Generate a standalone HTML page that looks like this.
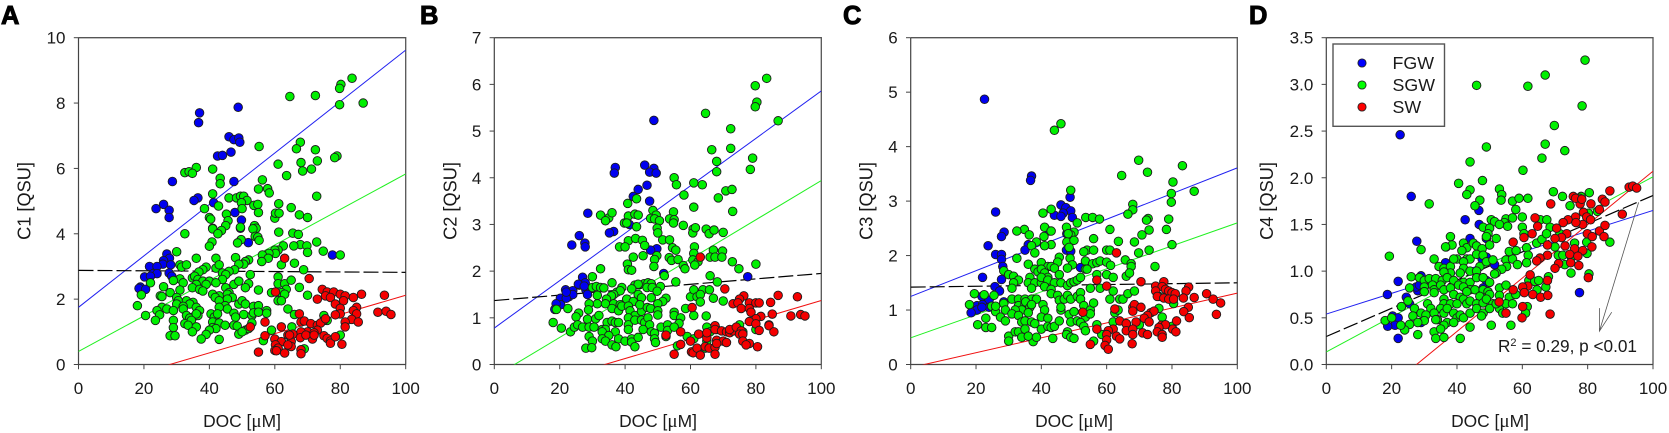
<!DOCTYPE html>
<html>
<head>
<meta charset="utf-8">
<title>C1-C4 vs DOC scatter panels</title>
<style>
html,body{margin:0;padding:0;background:#fff;width:1669px;height:433px;overflow:hidden}
svg{display:block}
text{font-family:"Liberation Sans",sans-serif;fill:#1a1a1a}
.panel{font-size:25.5px;font-weight:700;fill:#000;stroke:#000;stroke-width:1px}
.title{font-size:17.4px}
.ytitle{font-size:18.2px}
.legend{font-size:17.8px}
.tick{font-size:17px}
.note{font-size:17.2px}
.mu{font-family:"Liberation Serif",serif;font-size:19px}
</style>
</head>
<body>
<svg id="chart" xmlns="http://www.w3.org/2000/svg" width="1669" height="433" viewBox="0 0 1669 433">
  <text class="panel" x="1" y="24">A</text>
  <text class="panel" x="420" y="24">B</text>
  <text class="panel" x="843" y="24">C</text>
  <text class="panel" x="1249" y="24">D</text>

  <text class="title" x="242" y="427" text-anchor="middle">DOC [<tspan class="mu">μ</tspan>M]</text>
  <text class="title" x="658" y="427" text-anchor="middle">DOC [<tspan class="mu">μ</tspan>M]</text>
  <text class="title" x="1074" y="427" text-anchor="middle">DOC [<tspan class="mu">μ</tspan>M]</text>
  <text class="title" x="1490" y="427" text-anchor="middle">DOC [<tspan class="mu">μ</tspan>M]</text>

  <text class="ytitle" transform="translate(30.5,201) rotate(-90)" text-anchor="middle">C1 [QSU]</text>
  <text class="ytitle" transform="translate(456.5,201) rotate(-90)" text-anchor="middle">C2 [QSU]</text>
  <text class="ytitle" transform="translate(872.5,201) rotate(-90)" text-anchor="middle">C3 [QSU]</text>
  <text class="ytitle" transform="translate(1273,201) rotate(-90)" text-anchor="middle">C4 [QSU]</text>

  <g id="panels"></g>

  <g>
    <rect x="1333" y="44" width="111.5" height="82.3" fill="#fff" stroke="#555" stroke-width="1.4"/>
    <circle cx="1362" cy="63" r="4.1" fill="#0000ff" stroke="#222" stroke-width=".9"/>
    <circle cx="1362" cy="85" r="4.1" fill="#00ff00" stroke="#222" stroke-width=".9"/>
    <circle cx="1362" cy="107" r="4.1" fill="#ff0000" stroke="#222" stroke-width=".9"/>
    <text class="legend" x="1392.5" y="69">FGW</text>
    <text class="legend" x="1392.5" y="91">SGW</text>
    <text class="legend" x="1392.5" y="113">SW</text>
  </g>
  <text class="note" x="1498" y="352">R<tspan dy="-6" font-size="11">2</tspan><tspan dy="6"> = 0.29, p &lt;0.01</tspan></text>
</svg>
<script>
const xTicks = [0, 20, 40, 60, 80, 100];
const yTicksA = ["0", "2", "4", "6", "8", "10"];
const yTicksB = ["0", "1", "2", "3", "4", "5", "6", "7"];
const yTicksC = ["0", "1", "2", "3", "4", "5", "6"];
const yTicksD = ["0.0", "0.5", "1.0", "1.5", "2.0", "2.5", "3.0", "3.5"];

/* regression line values at DOC = 0 and DOC = 100: FGW, SGW, SW, all data */
const linesA = [[1.75, 9.62], [0.4, 5.83], [-0.82, 2.12], [2.88, 2.82]];
const linesB = [[0.78, 5.86], [-0.26, 3.94], [-0.7, 1.37], [1.37, 1.95]];
const linesC = [[1.25, 3.61], [0.49, 2.6], [-0.057, 1.31], [1.42, 1.5]];
const linesD = [[0.54, 1.65], [0.135, 2.01], [-0.79, 2.07], [0.3, 1.81]];

/* arrow in panel D, DOC and C4 values: tail, tip */
const arrowD = [[95.6, 1.736], [83.6, 0.357]];

const fgwA = [[37,7.7],[36.7,7.4],[48.8,7.87],[46,6.97],[47.5,6.88],[49,6.93],[49.3,6.8],[46.6,6.5],[42.5,6.38],[44,6.4],[28.7,5.6],[47.5,5.6],[36.5,5.1],[35.3,5.02],[41.3,4.95],[26,4.9],[23.7,4.77],[27.7,4.72],[27.7,4.5],[47.8,4.65],[49.8,4.42],[49.5,4.17],[51.9,3.73],[77.6,3.35],[27,3.38],[27.8,3.25],[26,3.18],[25.8,3.07],[28.2,3.05],[21.7,3],[24,3],[22.8,2.78],[24,2.78],[20.2,2.68],[22,2.7],[27.7,2.8],[28.5,2.7],[18.9,2.37],[18.5,2.33],[20.5,2.3]];
const sgwA = [[64.6,8.2],[72.4,8.23],[83.6,8.76],[80.2,8.57],[79.8,8.45],[79.8,7.95],[87,8],[55.2,6.67],[67.8,6.8],[66.6,6.6],[72.4,6.57],[73,6.23],[68,6.18],[79,6.38],[78.3,6.33],[61,6.13],[36,6.03],[41,5.98],[32.5,5.87],[33.8,5.9],[34.8,5.85],[63.6,5.78],[68.5,5.92],[71.2,5.98],[43.3,5.7],[43.3,5.53],[56.2,5.65],[55,5.37],[57.8,5.38],[58.3,5.25],[72.8,5.15],[41,5.22],[46,5.1],[48.3,5.1],[49.5,5.15],[50.5,5.15],[51.5,5.02],[49.8,4.95],[53.6,4.87],[54.8,4.9],[61.2,4.92],[38.5,4.77],[42.8,4.85],[50,4.77],[65,4.8],[67.5,4.58],[70,4.5],[55,4.65],[60,4.48],[60.2,4.63],[61.3,4.63],[45.2,4.6],[40,4.5],[40.4,4.45],[45.7,4.4],[45,4.25],[49.5,4.2],[53.8,4.25],[54.3,4.17],[53.3,4.15],[41,4.17],[41,4.15],[43.7,4.1],[42.6,4],[32.5,4],[61.2,4.05],[65.5,4.02],[67.2,3.98],[54,3.92],[54.8,3.9],[55.2,3.8],[49.7,3.82],[48.6,3.72],[40.8,3.75],[40,3.62],[72.8,3.75],[67.8,3.67],[65.8,3.63],[69.8,3.63],[62.6,3.63],[70,3.43],[74.8,3.47],[30,3.45],[80,3.35],[61,3.5],[60,3.5],[60.2,3.4],[58.2,3.4],[56.2,3.35],[58,3.25],[56,3.15],[36,3.25],[42,3.25],[48,3.27],[52,3.2],[51,3.15],[50.5,3.07],[49,3.07],[31,3.05],[31.5,2.98],[33,3.05],[39,2.98],[38,2.9],[36.8,2.83],[42,2.95],[43,3.05],[62,3.05],[66,3.1],[68.8,2.9],[47.7,2.9],[46,2.85],[44,2.8],[45,2.75],[52.5,2.75],[61,2.68],[31,2.62],[34.8,2.65],[35.5,2.7],[36.5,2.6],[38,2.55],[40,2.55],[29,2.57],[32,2.5],[36,2.45],[39,2.45],[44,2.6],[42,2.5],[47.5,2.45],[49,2.55],[52,2.47],[61,2.47],[63,2.47],[65,2.58],[22,2.5],[26,2.38],[34.8,2.35],[37,2.3],[38,2.25],[28,2.2],[31,2.28],[45,2.35],[46,2.2],[51,2.35],[55,2.28],[63.5,2.3],[67.5,2.36],[62,2.2],[41,2.15],[43,2.1],[45.5,2.15],[47,2.05],[59,2.2],[63,2.15],[19.2,2.13],[25,2.1],[25.5,2.08],[30,2.05],[30.5,1.95],[41.8,2.05],[45.5,2],[43,1.95],[33,1.95],[35,1.9],[34,1.85],[30,1.85],[32,1.78],[36,1.75],[44.8,1.8],[49,1.85],[50,1.95],[51,1.85],[53.5,1.78],[55,1.8],[61,1.95],[62,1.95],[70,2.12],[18,1.8],[25.5,1.75],[27,1.7],[29,1.65],[32,1.7],[45.5,1.7],[43,1.75],[24,1.65],[37,1.65],[57.5,1.65],[64,1.7],[20.5,1.5],[24.8,1.52],[23.5,1.35],[29,1.35],[33,1.5],[35,1.45],[36.5,1.5],[34,1.42],[36,1.55],[40.5,1.55],[41.5,1.45],[42.5,1.55],[47.5,1.57],[50.5,1.53],[53,1.5],[53.5,1.58],[55,1.6],[57.5,1.57],[48,1.45],[66,1.53],[75,1.5],[32.5,1.25],[34.5,1.35],[33.5,1.2],[36,1.15],[29,1.13],[41,1.3],[43,1.27],[44.8,1.2],[41,1.13],[42,1.1],[40,1.05],[47.5,1.2],[48.5,1.18],[51,1.05],[53,1.27],[52,1.1],[34.8,1],[39,.92],[28,.88],[29.5,.88],[49,.93],[50,1],[59,1.05],[65.2,1.15],[37.5,.78],[43,.77],[56.5,.73],[69,.48],[76,1.35],[80,.9]];
const swA = [[63,3.25],[70.5,2.63],[60.2,2.22],[74.5,2.3],[76,2.22],[78,2.22],[80,2.15],[75.5,2.1],[77,2.05],[73,2],[81.5,2.1],[86.5,2.15],[84,2.05],[93.5,2.12],[78.5,1.85],[81,1.95],[80,1.72],[85,1.75],[84,1.65],[85,1.55],[91.5,1.6],[94,1.63],[95.5,1.53],[80,1.55],[78.5,1.52],[67.5,1.55],[57,1.3],[68,1.3],[69,1.33],[71,1.25],[73,1.2],[75,1.35],[74,1.27],[75.5,1.4],[83.5,1.38],[85.5,1.3],[81.5,1.3],[81.5,1.15],[52.5,1.15],[62,1.15],[70,1],[73,1.05],[72,.97],[68,1],[65.5,.93],[64,.9],[57,.88],[60,.78],[62,.7],[60.2,.6],[61,.5],[60,.43],[60.5,.42],[55,.38],[63,.35],[65,.7],[65,.55],[64,.6],[68,.45],[68,.33],[67.8,.82],[71.5,.78],[69.5,.9],[72,.9],[75,.88],[76,.8],[77,.72],[77,.65],[78.5,.85],[80.5,.62],[64.5,.9]];

const fgwB = [[48.8,5.23],[46,4.27],[48.8,4.2],[47.5,4.12],[49.5,4.1],[37,4.22],[36.7,4.1],[46.7,3.84],[44,3.75],[42.5,3.6],[47.5,3.5],[28.6,3.24],[41.3,3],[36.5,2.85],[35.2,2.82],[26,2.76],[23.7,2.56],[27.7,2.6],[27.8,2.52],[49.7,2.48],[47.8,2.45],[51.8,1.95],[77.5,1.88],[27,1.87],[27.8,1.75],[26,1.7],[25.7,1.72],[28,1.6],[21.8,1.6],[24,1.58],[22.8,1.45],[24,1.5],[20.2,1.42],[22,1.42],[20.3,1.28],[18.9,1.3],[18.5,1.18],[28.5,1.5],[27.5,1.68],[22,1.55]];
const sgwB = [[83.3,6.13],[79.8,5.97],[80.3,5.62],[79.8,5.52],[64.6,5.38],[86.8,5.22],[72.3,5.05],[72.3,4.63],[66.5,4.6],[79,4.42],[78.3,4.18],[68,4.35],[68,4.13],[55,4],[55.7,3.85],[61,3.89],[63.6,3.85],[58,3.63],[68.5,3.57],[70.8,3.72],[72.7,3.75],[61,3.37],[72.9,3.28],[43.5,3.55],[40.8,3.45],[48.5,3.3],[32.5,3.2],[35,3.14],[34,3.08],[36,3.25],[41,3.18],[43,3.22],[44,3.2],[49.5,3.2],[47.8,3.13],[49,3.12],[50.5,3.08],[54.8,3.27],[53.6,3.12],[55,3.1],[54.8,3.03],[39.8,3.03],[40.5,3.03],[43.5,2.95],[49.8,2.92],[50,2.82],[57.8,2.98],[60.8,2.9],[60.7,2.82],[61.5,2.93],[64.8,2.9],[65.7,2.8],[67.2,2.88],[70,2.83],[41,2.65],[43.2,2.7],[45.3,2.66],[46,2.55],[51.5,2.67],[53.6,2.67],[38.3,2.52],[40,2.52],[54.5,2.5],[55.5,2.45],[61.2,2.52],[67,2.45],[69.8,2.43],[61,2.38],[49.7,2.33],[49,2.25],[42.5,2.3],[45.5,2.33],[53.5,2.29],[54.2,2.23],[56.2,2.25],[60.7,2.24],[62.3,2.2],[66,2.3],[67.5,2.3],[69.6,2.3],[72.8,2.2],[74.8,2.05],[80,2.15],[40.7,2.15],[41,2.03],[42,2.02],[32.5,2.05],[48.8,2.1],[57.8,2.12],[58.3,2.05],[61.3,2.13],[30,1.88],[52,1.9],[66,1.9],[68.2,1.77],[36,1.75],[55.5,1.77],[45.8,1.73],[47,1.75],[48,1.73],[43,1.7],[44,1.72],[30,1.65],[31.2,1.67],[32.5,1.65],[33.5,1.64],[39,1.65],[37.5,1.55],[38.5,1.58],[36.5,1.5],[35.8,1.47],[42,1.62],[46.7,1.65],[48.3,1.65],[50.8,1.67],[49.8,1.57],[60,1.45],[61,1.6],[62,1.45],[63.8,1.6],[65.8,1.6],[63,1.5],[67,1.42],[70,1.36],[63,1.34],[31.5,1.48],[34.3,1.4],[40.5,1.4],[42.5,1.35],[44,1.5],[45,1.43],[48,1.43],[52.5,1.42],[51.5,1.35],[50,1.3],[31.5,1.3],[29,1.3],[34,1.3],[36.5,1.3],[38.5,1.28],[36,1.2],[38,1.15],[39,1.25],[41,1.25],[41.5,1.15],[43,1.05],[45,1.14],[44.5,1.28],[46.8,1.22],[47.8,1.2],[50,1.15],[22.5,1.2],[19,1.18],[25.8,1.1],[25,1.02],[28.8,1.17],[28.5,.97],[31,.98],[32,1.05],[34.5,.9],[36,.93],[37,.9],[38,.9],[41,1],[41,.85],[43,.95],[45,.95],[46,.9],[47,1],[50,1.06],[47.5,.85],[55,1.12],[55,1.05],[57,1],[58.5,1.2],[61,1.05],[64.8,1.04],[56.5,.88],[18,.9],[20.5,.78],[23.3,.7],[24.5,.8],[25.5,.85],[27,.8],[29,.8],[30.5,.8],[33,.75],[34,.75],[33,.7],[37,.7],[35,.62],[41,.75],[45.5,.75],[48,.7],[49,.67],[51,.8],[53,.85],[53,.73],[55,.8],[52.5,.6],[29,.6],[30,.5],[33,.55],[34,.5],[36,.42],[38,.55],[37.2,.38],[40,.5],[42,.55],[42,.48],[44,.58],[43,.38],[28,.35],[29.8,.36],[49,.55],[49.3,.47],[59,.6],[56,.4],[61,.55],[65,.8],[66,.7],[65,.5],[68,.75],[76,.7],[75,.85],[80,.75],[64.5,.35]];
const swB = [[63,2.3],[70.5,1.62],[86.8,1.48],[76.3,1.47],[75,1.4],[73,1.3],[74.5,1.32],[78,1.32],[80,1.32],[81,1.32],[84.5,1.33],[60.5,1.22],[75.5,1.2],[78,1.2],[78.5,1.12],[85,1.08],[81.5,1.03],[80,.98],[78,.92],[80,.87],[84,.85],[84,.83],[81,.73],[85.5,.7],[92.7,1.45],[90.7,1.04],[93.7,1.07],[95,1.04],[57,.7],[52.5,.63],[62.5,.65],[65,.57],[65,.68],[67.5,.83],[67.5,.75],[69.5,.72],[71,.7],[72,.68],[73,.72],[72,.75],[74,.8],[75.5,.72],[75,.65],[76,.65],[76,.5],[78,.45],[77,.42],[80.5,.38],[60,.5],[60.3,.27],[60.8,.25],[62,.35],[63,.2],[64.5,.38],[65.7,.35],[67.5,.37],[67.5,.22],[55,.22],[57,.43],[68,.52],[70,.5],[71,.47],[68,.45]];

const fgwC = [[22.6,4.87],[37,3.46],[36.7,3.38],[48.8,3.07],[46,2.93],[47.5,2.88],[49,2.82],[46.7,2.78],[44,2.74],[46,2.72],[49.5,2.7],[26,2.8],[28.6,2.43],[27.8,2.35],[42.5,2.45],[47.8,2.4],[36,2.2],[23.7,2.18],[35,2.1],[47.7,2.1],[49,2.08],[26,2.02],[27.8,2.02],[27.8,1.93],[28.2,1.8],[52,1.78],[22,1.6],[27.8,1.56],[25.8,1.43],[27.2,1.35],[21.8,1.25],[24,1.18],[28.5,1.15],[20.3,1.08],[22,1.1],[24,1.05],[20.3,1],[18.5,.95],[21.8,1.05]];
const sgwC = [[46,4.42],[44,4.3],[69.8,3.75],[72.5,3.53],[64.6,3.47],[80.3,3.35],[79.8,3.14],[79.8,2.98],[83.2,3.65],[86.8,3.18],[49,3.2],[68,2.94],[68,2.84],[66.5,2.76],[40.5,2.78],[43,2.85],[53.6,2.7],[55.7,2.7],[57.8,2.67],[51,2.6],[72.7,2.68],[72.2,2.65],[79,2.67],[78.3,2.48],[73,2.47],[70.8,2.38],[61,2.48],[63.6,2.26],[68.5,2.25],[34.8,2.48],[32.5,2.45],[36.3,2.38],[41,2.52],[43,2.45],[47.7,2.52],[50,2.43],[49,2.38],[48.2,2.4],[40.8,2.35],[38.5,2.25],[47.8,2.25],[50,2.28],[56,2.31],[43,2.2],[41,2.18],[37,2.18],[38,2.05],[60,2.1],[61,2.1],[80,2.2],[73,2.1],[69.8,2.05],[54,2.1],[53,2.07],[56,2.1],[48.5,2.15],[48.8,1.95],[45.5,1.97],[45,1.88],[32.5,1.95],[53.5,1.9],[55.7,1.85],[36,1.84],[49.5,1.83],[57,1.87],[58,1.9],[60,1.88],[61.2,1.82],[65.7,1.92],[67.5,1.85],[67.5,1.8],[74.8,1.8],[48,1.77],[53.5,1.75],[54,1.75],[57,1.65],[60,1.65],[62,1.6],[66,1.62],[67,1.68],[40,1.87],[42,1.8],[43,1.8],[44,1.77],[38,1.75],[39,1.7],[40,1.75],[41,1.68],[42,1.6],[28.5,1.72],[30,1.65],[31.5,1.62],[36.5,1.6],[45.5,1.65],[33,1.55],[31.5,1.5],[36,1.5],[38,1.5],[40,1.5],[40,1.6],[42,1.55],[44,1.5],[46,1.5],[48,1.45],[49,1.5],[50,1.52],[51,1.55],[52,1.6],[58,1.4],[55,1.4],[31,1.4],[37,1.4],[41,1.43],[43,1.38],[62,1.35],[19.5,1.3],[22.5,1.28],[25.5,1.27],[31,1.2],[33,1.2],[35,1.2],[37,1.2],[38.5,1.2],[43,1.3],[45,1.27],[45.5,1.18],[47,1.2],[48,1.27],[49,1.2],[51,1.25],[52,1.32],[52,1.2],[61,1.2],[64,1.2],[65,1.2],[66.5,1.3],[68.5,1.35],[76,1.25],[80.5,1.12],[18,1.1],[24.8,1.07],[26,.97],[28.5,1.12],[29,1],[26,1.07],[33,1.08],[35,1.1],[35.2,1.15],[36.5,1.05],[37,1.1],[34,1],[32,1],[31,.93],[27.5,.87],[29,.8],[20.5,.73],[23,.85],[23,.68],[24.8,.68],[33,.9],[34,.78],[35,.8],[37,.78],[36,.95],[38,.75],[40.5,1.1],[41,1],[40,.87],[42,.85],[40,.65],[42,.7],[43,.68],[44,.7],[45.5,.8],[46,1],[46,1.05],[48.5,.92],[50,.97],[53,1.08],[53.5,.87],[55,1],[56,1.13],[55,.93],[49,.78],[51,.8],[52,.77],[53,.7],[53.5,.62],[57,.73],[48,.6],[47.7,.55],[49,.5],[50,.48],[43.5,.48],[37.5,.42],[30,.52],[32,.6],[30,.43],[33,.6],[34,.5],[35,.65],[36,.52],[38.5,.5],[56,.43],[58.5,.55],[62,.78],[62.5,.95],[63.5,1],[66,.75],[70,.73],[76,1.03],[77,.87],[80,.7]];
const swC = [[63,2.05],[57,1.55],[60,1.44],[70.5,1.52],[77.5,1.52],[75,1.44],[77,1.43],[78,1.38],[79,1.35],[80,1.32],[81,1.3],[85.1,1.42],[84.3,1.35],[75,1.35],[75.5,1.25],[77.5,1.22],[79,1.2],[80.5,1.2],[83.5,1.22],[86.8,1.23],[90.6,1.3],[92.6,1.2],[94.9,1.13],[93.6,.92],[85,1.05],[83.6,.97],[85.3,.86],[52.7,.96],[62.5,1.02],[68,1.05],[68.5,1.1],[70.5,1.05],[68,.98],[73.5,.95],[74.5,.98],[72.5,.9],[71.5,.85],[73,.78],[64,.8],[66,.75],[69,.78],[81.4,.8],[80.2,.65],[81.2,.6],[76.8,.72],[78,.73],[76,.68],[57,.65],[62,.65],[60.5,.62],[60,.55],[60,.45],[59.5,.35],[60.5,.28],[63,.52],[64,.47],[66,.62],[68,.65],[68,.55],[71,.58],[72.5,.55],[75.5,.6],[77,.55],[77,.5],[55,.37],[67.8,.38]];

const fgwD = [[22.6,2.46],[26,1.8],[46.7,1.65],[42.5,1.55],[46.8,1.5],[27.7,1.32],[44,1.35],[49,1.35],[36.7,1.26],[36.5,1.09],[47.7,1.13],[49,1.15],[22,.89],[18.7,.75],[24.5,.72],[28,.79],[27.5,.83],[28.5,.85],[29,.95],[49,.9],[48,.82],[23,.62],[25.5,.65],[20.3,.52],[22,.5],[21,.42],[18.8,.41],[22,.28],[29,.45],[77.5,.77],[51.5,1.07]];
const sgwD = [[79.2,3.26],[67,3.1],[46,2.99],[61.7,2.98],[78.3,2.77],[69.8,2.56],[49,2.33],[67,2.36],[73,2.29],[66,2.21],[44,2.17],[60.2,2.08],[40.5,1.94],[47.8,1.97],[53,1.88],[44,1.87],[43,1.82],[53.7,1.82],[53.5,1.76],[47,1.76],[57,1.75],[59,1.78],[61.7,1.78],[45.5,1.7],[31.5,1.72],[58,1.66],[69.5,1.85],[72.3,1.8],[74.6,1.7],[78,1.8],[80.5,1.84],[77.5,1.78],[83,1.64],[80.2,1.62],[19.3,1.16],[50.5,1.55],[51.5,1.53],[55,1.56],[57,1.57],[54.5,1.52],[53,1.5],[55.5,1.48],[48,1.47],[50,1.46],[49.5,1.4],[49,1.37],[52,1.35],[60,1.58],[60,1.47],[60.5,1.4],[38,1.37],[38.5,1.28],[36.5,1.26],[29,1.23],[42,1.3],[43,1.25],[45,1.3],[46,1.27],[47.7,1.24],[50,1.28],[65.5,1.55],[67.5,1.55],[68.5,1.47],[71.5,1.4],[41.5,1.22],[40,1.13],[43,1.13],[33,1.13],[34.5,1.05],[36,1.03],[38,1.05],[39,1.13],[44,1.13],[46,1.18],[48,1.17],[42,1.1],[47,1.05],[49,1.1],[51,1.12],[55,1.12],[57,1.13],[56,1.21],[58.1,1.22],[61.3,1.25],[64.4,1.3],[66,1.34],[67.4,1.4],[58.5,1.07],[61.8,1.17],[61.3,1.09],[70,1.26],[71,1.17],[72.4,1.17],[73,1.07],[76,1.3],[79.7,1.31],[79.8,1.19],[86.8,1.31],[74.9,.98],[80.4,.97],[75,1.15],[55.2,1.05],[53.7,1.02],[52,.98],[42,1.03],[44,1],[46,1],[38,.98],[36,.99],[41,.98],[26,.94],[28.5,.93],[30,.9],[31.5,.92],[33.5,.92],[35.5,.9],[37,.93],[39,.9],[42,.88],[44,.88],[46,.93],[48,.93],[50,.88],[51.5,.97],[30,.83],[25.5,.82],[32.5,.85],[33,.8],[35,.85],[36,.8],[38,.82],[40.5,.85],[42,.83],[44,.8],[45.5,.8],[48,.8],[49.5,.78],[53,.82],[55,.85],[62,.9],[63.8,.89],[64.5,.8],[65,.9],[68,.94],[67.2,.83],[30,.78],[33,.77],[39,.75],[41,.72],[42,.7],[43,.78],[47,.73],[50,.75],[53,.74],[56,.72],[58,.75],[36,.7],[36,.65],[35,.6],[38,.65],[40,.65],[43,.65],[44,.68],[46,.65],[48,.66],[49,.7],[51,.65],[53,.6],[55,.65],[57,.65],[31,.65],[32,.6],[25,.68],[23,.62],[27,.6],[29,.55],[30.5,.53],[26.5,.52],[33,.55],[36,.55],[37,.6],[39,.55],[40,.5],[41,.53],[42,.5],[44,.55],[46,.6],[48,.55],[47.5,.52],[50,.6],[52,.65],[54,.55],[34,.48],[37,.45],[39,.45],[36,.42],[33.5,.48],[30,.47],[28,.45],[25.5,.43],[24,.37],[22.8,.42],[18,.47],[20,.5],[33,.35],[33.5,.28],[36,.29],[35,.38],[28,.32],[41,.28],[44,.4],[50.5,.42],[56.5,.42],[61.5,.62],[61,.55]];
const swD = [[92.7,1.9],[93.8,1.91],[95,1.89],[86.8,1.86],[84.5,1.77],[85.3,1.74],[83.6,1.66],[81,1.72],[77.7,1.72],[75.6,1.8],[76.3,1.78],[78.2,1.77],[68.7,1.72],[78.7,1.63],[79.7,1.58],[80.9,1.55],[63.9,1.57],[64.7,1.48],[76.3,1.58],[74,1.55],[72.5,1.52],[70.5,1.46],[78.5,1.5],[76.4,1.52],[73.6,1.4],[72,1.36],[70,1.35],[63,1.4],[60.5,1.36],[57.2,1.31],[90.6,1.61],[79.9,1.4],[83.6,1.43],[85.3,1.49],[81.4,1.37],[85,1.37],[67.7,1.28],[73.1,1.27],[76,1.24],[81.3,1.26],[78.5,1.22],[67.7,1.17],[65.4,1.14],[64.4,1.11],[74.5,1.18],[77,1.16],[71.1,1.08],[74.8,1.09],[77.3,1.06],[70,1.03],[62.4,.96],[67.7,.9],[61.7,.84],[60.1,.83],[57.2,.8],[60.6,.77],[63.2,.75],[65.6,.72],[67.8,.74],[52.9,.67],[60.1,.62],[55,.55],[59.9,.5],[68.5,.54],[80.2,.93]];

const NS = "http://www.w3.org/2000/svg";
const panelsRoot = document.getElementById("panels");
const COLORS = {fgw: "#0000f0", sgw: "#00f000", sw: "#f50000"};
const LINE_COLORS = ["#2020f0", "#20f020", "#f01010", "#000000"];
const LINE_NAMES = ["fit-line-fgw", "fit-line-sgw", "fit-line-sw", "fit-line-all"];
const TOP = 37.7, BOTTOM = 364.5;

function node(parent, tag, attrs) {
  const el = document.createElementNS(NS, tag);
  for (const k in attrs) el.setAttribute(k, attrs[k]);
  parent.appendChild(el);
  return el;
}

function drawPanel(id, left, right, yMax, yLabels, lines, fgw, sgw, sw) {
  const xs = v => left + (right - left) * v / 100;
  const ys = v => BOTTOM - (BOTTOM - TOP) * v / yMax;

  const g = node(panelsRoot, "g", {});
  
  

  const clip = node(g, "clipPath", {id: "clip-" + id});
  node(clip, "rect", {x: left, y: TOP, width: right - left, height: BOTTOM - TOP});

  const frame = node(g, "path", {
    d: `M${left} ${TOP}H${right}V${BOTTOM}`,
    fill: "none", stroke: "#555", "stroke-width": 1.3
  });
  
  

  const axes = node(g, "path", {
    d: `M${left} ${TOP}V${BOTTOM}H${right}`,
    fill: "none", stroke: "#444", "stroke-width": 1.2
  });
  
  

  xTicks.forEach(v => {
    const t = node(g, "line", {x1: xs(v), x2: xs(v), y1: BOTTOM, y2: BOTTOM + 4.7, stroke: "#444", "stroke-width": 1});
    
    
    const l = node(g, "text", {x: xs(v), y: 394, "text-anchor": "middle", "class": "tick"});
    
    
    l.textContent = v;
  });

  yLabels.forEach(label => {
    const v = parseFloat(label);
    const t = node(g, "line", {x1: left - 4.7, x2: left, y1: ys(v), y2: ys(v), stroke: "#444", "stroke-width": 1});
    
    
    const l = node(g, "text", {x: left - 13, y: ys(v) + 6, "text-anchor": "end", "class": "tick"});
    
    
    l.textContent = label;
  });

  lines.forEach((ln, i) => {
    const attrs = {
      x1: xs(0), y1: ys(ln[0]), x2: xs(100), y2: ys(ln[1]),
      stroke: LINE_COLORS[i], "stroke-width": 1, "clip-path": `url(#clip-${id})`
    };
    if (i === 3) { attrs["stroke-dasharray"] = "15 4"; attrs["stroke-width"] = 1.2; }
    const el = node(g, "line", attrs);
    
    
  });

  [["fgw", fgw], ["sgw", sgw], ["sw", sw]].forEach(([key, pts]) => {
    const sg = node(g, "g", {fill: COLORS[key], stroke: "#1c1c1c", "stroke-width": 0.9});
    
    
    pts.forEach(p => {
      const c = node(sg, "circle", {cx: xs(p[0]), cy: ys(p[1]), r: 4.3});
      
      
    });
  });

  return {xs, ys};
}

drawPanel("a", 78.5, 405.7, 10, yTicksA, linesA, fgwA, sgwA, swA);
drawPanel("b", 494.3, 821.3, 7, yTicksB, linesB, fgwB, sgwB, swB);
drawPanel("c", 910.7, 1237.3, 6, yTicksC, linesC, fgwC, sgwC, swC);
const scaleD = drawPanel("d", 1326.3, 1653, 3.5, yTicksD, linesD, fgwD, sgwD, swD);

const tailX = scaleD.xs(arrowD[0][0]), tailY = scaleD.ys(arrowD[0][1]);
const tipX = scaleD.xs(arrowD[1][0]), tipY = scaleD.ys(arrowD[1][1]);
const arrow = node(panelsRoot, "path", {
  d: `M${tailX} ${tailY}L${tipX} ${tipY}M${tipX} ${tipY - 23}L${tipX} ${tipY}L${tipX + 12.3} ${tipY - 19}`,
  fill: "none", stroke: "#555", "stroke-width": 0.8
});


</script>
</body>
</html>
